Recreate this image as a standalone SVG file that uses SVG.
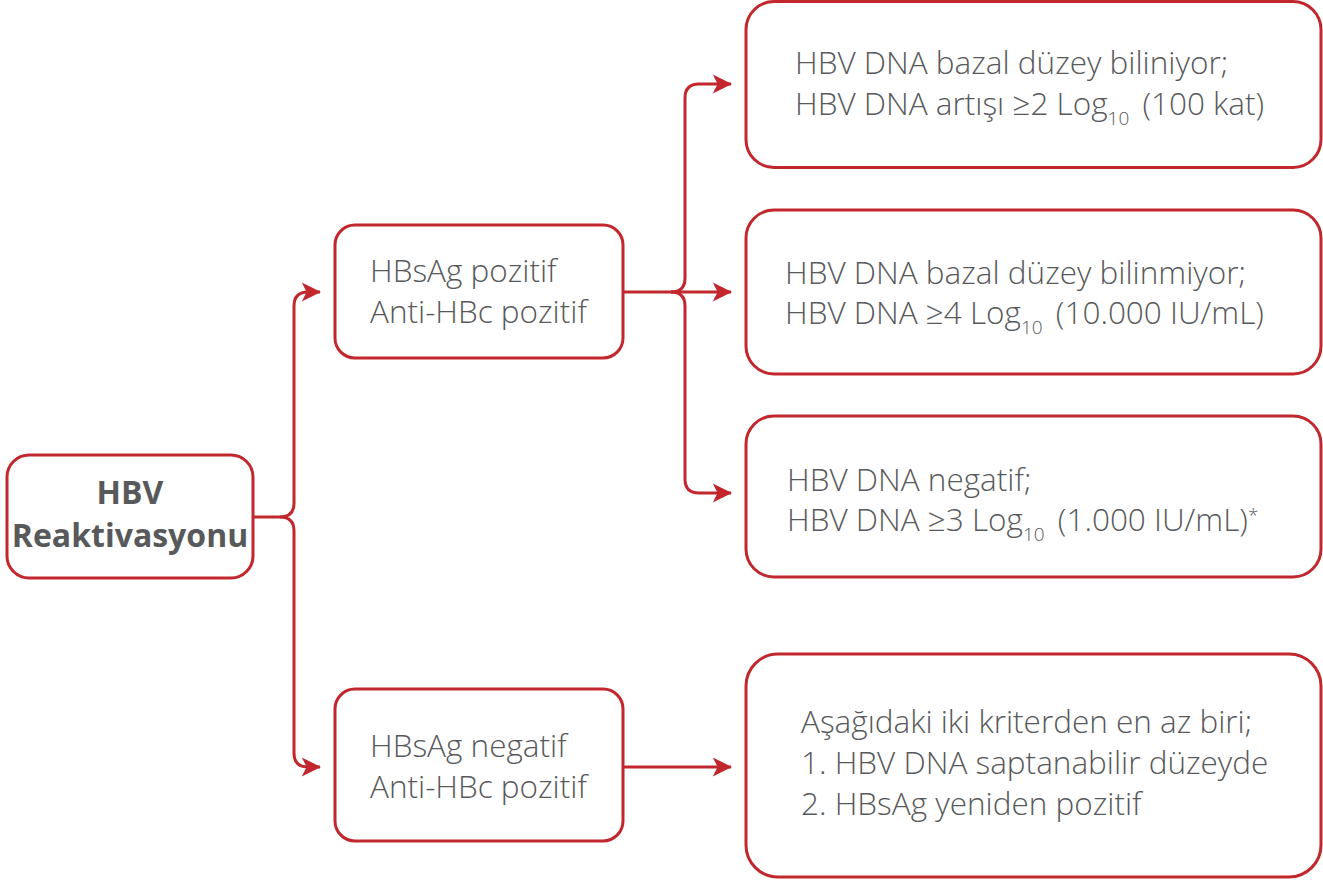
<svg xmlns="http://www.w3.org/2000/svg" width="1323" height="885" viewBox="0 0 1323 885">
<defs>
<style>
.box{fill:#fff;stroke:#c1272d;stroke-width:3}
.t{font-family:"Open Sans","Liberation Sans",sans-serif;font-weight:300;font-size:31.5px;fill:#58595b}
.b{font-family:"Open Sans","Liberation Sans",sans-serif;font-weight:700;font-size:32px;fill:#58595b}
.c{fill:none;stroke:#c1272d;stroke-width:3}
.sub{font-size:19px}
</style>
<marker id="ah" markerWidth="12" markerHeight="12" viewBox="0 0 12 12" refX="11" refY="6" orient="auto" markerUnits="userSpaceOnUse" overflow="visible">
<path d="M0,0 L12,6 L0,12 L3,6 z" fill="#c1272d" transform="scale(1.6) translate(-4.5,-2.25)"/>
</marker>
</defs>
<g id="connectors">
<path class="c" d="M253,517 H280 Q294,517 294,503 V306 Q294,292 308,292 H320" marker-end="url(#ah)"/>
<path class="c" d="M280,517 Q294,517 294,531 V753 Q294,767 308,767 H320" marker-end="url(#ah)"/>
<path class="c" d="M623,292 H731" marker-end="url(#ah)"/>
<path class="c" d="M671,292 Q685,292 685,278 V98 Q685,84 699,84 H731" marker-end="url(#ah)"/>
<path class="c" d="M671,292 Q685,292 685,306 V479 Q685,493 699,493 H731" marker-end="url(#ah)"/>
<path class="c" d="M623,767 H731" marker-end="url(#ah)"/>
</g>
<g id="n-root">
<rect class="box" x="7" y="455" width="246" height="123" rx="22"/>
<text class="b" text-anchor="middle" x="130" y="504">HBV</text>
<text class="b" text-anchor="middle" x="130" y="547">Reaktivasyonu</text>
</g>
<g id="n-pos">
<rect class="box" x="335" y="225" width="288" height="133" rx="20"/>
<text class="t" x="370" y="282">HBsAg pozitif</text>
<text class="t" x="370" y="323">Anti-HBc pozitif</text>
</g>
<g id="n-neg">
<rect class="box" x="335" y="689" width="288" height="152" rx="20"/>
<text class="t" x="370" y="757">HBsAg negatif</text>
<text class="t" x="370" y="798">Anti-HBc pozitif</text>
</g>
<g id="n-r1">
<rect class="box" x="746" y="1.5" width="575" height="166" rx="28"/>
<text class="t" x="795" y="74">HBV DNA bazal düzey biliniyor;</text>
<text class="t" x="795" y="115">HBV DNA artışı ≥2 Log<tspan class="sub" dy="10">10</tspan><tspan dy="-10" dx="5"> (100 kat)</tspan></text>
</g>
<g id="n-r2">
<rect class="box" x="746" y="210" width="575" height="164" rx="28"/>
<text class="t" x="785" y="284">HBV DNA bazal düzey bilinmiyor;</text>
<text class="t" x="785" y="324">HBV DNA ≥4 Log<tspan class="sub" dy="10">10</tspan><tspan dy="-10" dx="5"> (10.000 IU/mL)</tspan></text>
</g>
<g id="n-r3">
<rect class="box" x="746" y="416" width="575" height="161" rx="28"/>
<text class="t" x="787" y="491">HBV DNA negatif;</text>
<text class="t" x="787" y="531">HBV DNA ≥3 Log<tspan class="sub" dy="10">10</tspan><tspan dy="-10" dx="5"> (1.000 IU/mL)</tspan><tspan class="sub" dy="-9">*</tspan></text>
</g>
<g id="n-r4">
<rect class="box" x="746" y="654" width="575" height="223" rx="32"/>
<text class="t" x="801" y="733">Aşağıdaki iki kriterden en az biri;</text>
<text class="t" x="801" y="774">1. HBV DNA saptanabilir düzeyde</text>
<text class="t" x="801" y="815">2. HBsAg yeniden pozitif</text>
</g>
</svg>
